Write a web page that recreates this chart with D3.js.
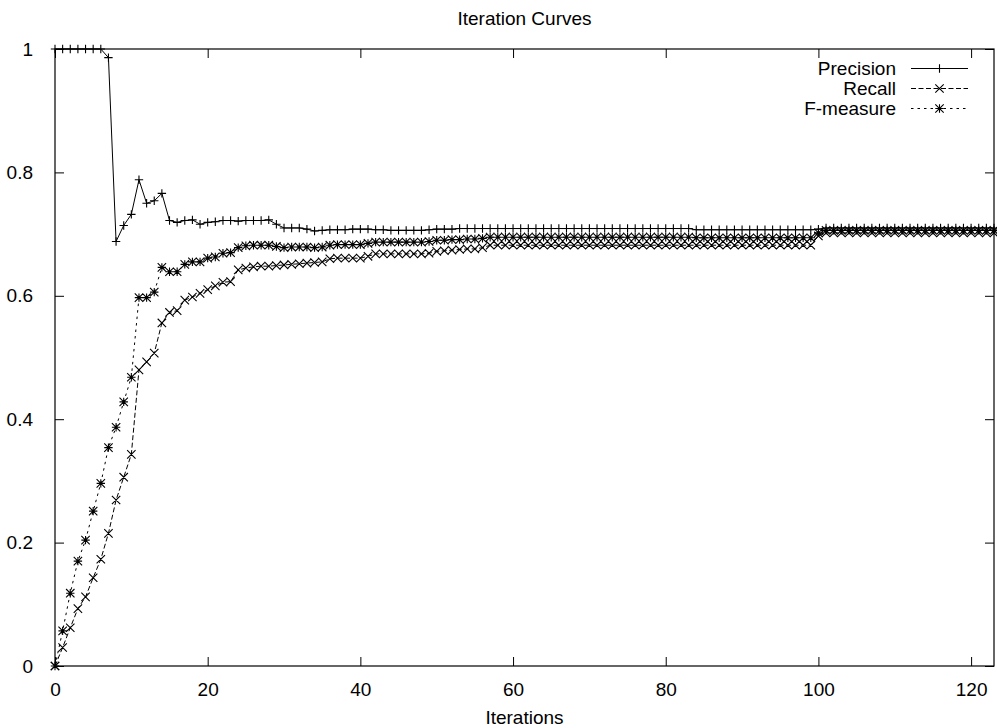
<!DOCTYPE html>
<html>
<head>
<meta charset="utf-8">
<script src="https://cdn.jsdelivr.net/npm/d3@7"></script>
<style>
    body { margin: 0; background: #fff; }
    text { font-family: "Liberation Sans", Arial, sans-serif; fill: #000; }
</style>
</head>
<body>
<svg id="chart"></svg>
<script>
// values per iteration (index = iteration number)
var precision = [
    1, 1, 1, 1, 1, 1, 1, 0.986, 0.688, 0.714,
    0.732, 0.788, 0.750, 0.754, 0.766, 0.722, 0.719, 0.722, 0.723, 0.716,
    0.719, 0.720, 0.722, 0.722, 0.721, 0.722, 0.722, 0.722, 0.723, 0.716,
    0.710, 0.710, 0.710, 0.708, 0.705, 0.706, 0.707, 0.707, 0.707, 0.708,
    0.708, 0.708, 0.707, 0.707, 0.706, 0.706, 0.706, 0.706, 0.706, 0.707,
    0.708, 0.708, 0.708, 0.709, 0.709, 0.709, 0.709, 0.709, 0.709, 0.709,
    0.709, 0.709, 0.709, 0.709, 0.709, 0.709, 0.709, 0.709, 0.709, 0.709,
    0.709, 0.709, 0.709, 0.709, 0.709, 0.709, 0.709, 0.709, 0.709, 0.709,
    0.709, 0.709, 0.709, 0.709, 0.707, 0.707, 0.707, 0.707, 0.707, 0.707,
    0.707, 0.707, 0.707, 0.707, 0.707, 0.707, 0.707, 0.707, 0.707, 0.707,
    0.708, 0.710, 0.710, 0.710, 0.710, 0.710, 0.710, 0.710, 0.710, 0.710,
    0.710, 0.710, 0.710, 0.710, 0.710, 0.710, 0.710, 0.710, 0.710, 0.710,
    0.710, 0.710, 0.710, 0.710
]

var recall = [
    0, 0.030, 0.062, 0.093, 0.112, 0.143, 0.173, 0.215, 0.269, 0.306,
    0.343, 0.480, 0.493, 0.507, 0.556, 0.573, 0.576, 0.593, 0.598, 0.604,
    0.610, 0.616, 0.622, 0.623, 0.642, 0.645, 0.647, 0.648, 0.648, 0.649,
    0.650, 0.651, 0.652, 0.653, 0.654, 0.655, 0.660, 0.661, 0.661, 0.661,
    0.661, 0.664, 0.668, 0.668, 0.668, 0.668, 0.668, 0.668, 0.668, 0.669,
    0.672, 0.673, 0.674, 0.675, 0.676, 0.676, 0.678, 0.682, 0.682, 0.682,
    0.682, 0.682, 0.682, 0.682, 0.682, 0.682, 0.682, 0.682, 0.682, 0.682,
    0.682, 0.682, 0.682, 0.682, 0.682, 0.682, 0.682, 0.682, 0.682, 0.682,
    0.682, 0.682, 0.682, 0.682, 0.682, 0.682, 0.682, 0.682, 0.682, 0.682,
    0.682, 0.682, 0.682, 0.682, 0.682, 0.682, 0.682, 0.682, 0.682, 0.682,
    0.697, 0.702, 0.702, 0.702, 0.702, 0.702, 0.702, 0.702, 0.702, 0.702,
    0.702, 0.702, 0.702, 0.702, 0.702, 0.702, 0.702, 0.702, 0.702, 0.702,
    0.702, 0.702, 0.702, 0.702
]

var fmeasure = [
    0, 0.057, 0.118, 0.170, 0.204, 0.251, 0.296, 0.354, 0.387, 0.428,
    0.468, 0.597, 0.597, 0.606, 0.646, 0.639, 0.639, 0.651, 0.655, 0.655,
    0.661, 0.663, 0.669, 0.670, 0.678, 0.681, 0.682, 0.682, 0.682, 0.680,
    0.678, 0.679, 0.679, 0.679, 0.678, 0.679, 0.682, 0.683, 0.683, 0.683,
    0.683, 0.685, 0.687, 0.687, 0.687, 0.687, 0.687, 0.687, 0.687, 0.688,
    0.690, 0.690, 0.691, 0.691, 0.692, 0.692, 0.693, 0.695, 0.695, 0.695,
    0.695, 0.695, 0.695, 0.695, 0.695, 0.695, 0.695, 0.695, 0.695, 0.695,
    0.695, 0.695, 0.695, 0.695, 0.695, 0.695, 0.695, 0.695, 0.695, 0.695,
    0.695, 0.695, 0.695, 0.695, 0.694, 0.694, 0.694, 0.694, 0.694, 0.694,
    0.694, 0.694, 0.694, 0.694, 0.694, 0.694, 0.694, 0.694, 0.694, 0.694,
    0.702, 0.706, 0.706, 0.706, 0.706, 0.706, 0.706, 0.706, 0.706, 0.706,
    0.706, 0.706, 0.706, 0.706, 0.706, 0.706, 0.706, 0.706, 0.706, 0.706,
    0.706, 0.706, 0.706, 0.706
]

var xTicks = [0, 20, 40, 60, 80, 100, 120]
var yTicks = [0, 0.2, 0.4, 0.6, 0.8, 1]
var seriesNames = ["Precision", "Recall", "F-measure"]

var dimensions = {
    width: 997,
    height: 728,
    margin: {
        top: 49,
        bottom: 62,
        right: 3,
        left: 55
    }
}

var fontSize = 19
var tickLen = 9

var svg = d3.select("#chart")
    .attr("width", dimensions.width)
    .attr("height", dimensions.height)

var xScale = d3.scaleLinear()
    .domain([0, 123])
    .range([dimensions.margin.left, dimensions.width - dimensions.margin.right])

var yScale = d3.scaleLinear()
    .domain([0, 1])
    .range([dimensions.height - dimensions.margin.bottom, dimensions.margin.top])

var x0 = xScale.range()[0], x1 = xScale.range()[1]
var y0 = yScale.range()[0], y1 = yScale.range()[1]

// axes: ticks go inwards, mirrored on the opposite side
var xAxisBottom = d3.axisBottom(xScale).tickValues(xTicks).tickSize(-tickLen).tickPadding(tickLen + 8).tickFormat(d3.format("d"))
var xAxisTop = d3.axisTop(xScale).tickValues(xTicks).tickSize(-tickLen).tickFormat("")
var yAxisLeft = d3.axisLeft(yScale).tickValues(yTicks).tickSize(-tickLen).tickPadding(tickLen + 13).tickFormat(d => d)
var yAxisRight = d3.axisRight(yScale).tickValues(yTicks).tickSize(-tickLen).tickFormat("")

function styleAxis(g) {
    g.select(".domain").remove()
    g.selectAll("line").attr("stroke", "#000").attr("stroke-width", 1)
    g.selectAll("text").style("font-size", fontSize + "px").attr("fill", "#000")
}

svg.append("g")
    .attr("class", "x-axis")
    .attr("transform", "translate(0," + y0 + ")")
    .call(xAxisBottom)
    .call(styleAxis)

svg.append("g")
    .attr("transform", "translate(0," + y1 + ")")
    .call(xAxisTop)
    .call(styleAxis)

svg.append("g")
    .attr("class", "y-axis")
    .attr("transform", "translate(" + x0 + ",0)")
    .call(yAxisLeft)
    .call(styleAxis)

svg.append("g")
    .attr("transform", "translate(" + x1 + ",0)")
    .call(yAxisRight)
    .call(styleAxis)

// border
svg.append("rect")
    .attr("x", x0)
    .attr("y", y1)
    .attr("width", x1 - x0)
    .attr("height", y0 - y1)
    .attr("fill", "none")
    .attr("stroke", "#000")
    .attr("stroke-width", 1.2)

// title and axis label
svg.append("text")
    .attr("x", (x0 + x1) / 2)
    .attr("y", 25)
    .attr("text-anchor", "middle")
    .style("font-size", fontSize + "px")
    .text("Iteration Curves")

svg.append("text")
    .attr("x", (x0 + x1) / 2)
    .attr("y", 724)
    .attr("text-anchor", "middle")
    .style("font-size", fontSize + "px")
    .text("Iterations")

// marker shapes
var m = 4.2
function plusPath(x, y) {
    return "M" + (x - m) + "," + y + "H" + (x + m) + "M" + x + "," + (y - m) + "V" + (y + m)
}
function crossPath(x, y) {
    return "M" + (x - m) + "," + (y - m) + "L" + (x + m) + "," + (y + m) +
        "M" + (x - m) + "," + (y + m) + "L" + (x + m) + "," + (y - m)
}
function starPath(x, y) {
    return plusPath(x, y) + crossPath(x, y)
}

var series = [
    { name: seriesNames[0], values: precision, dash: null, marker: plusPath },
    { name: seriesNames[1], values: recall, dash: "5,2.5", marker: crossPath },
    { name: seriesNames[2], values: fmeasure, dash: "2.5,4", marker: starPath }
]

var line = d3.line()
    .x((d, i) => xScale(i))
    .y(d => yScale(d))

var plot = svg.append("g")

series.forEach(function (s) {
    plot.append("path")
        .attr("d", line(s.values))
        .attr("fill", "none")
        .attr("stroke", "#000")
        .attr("stroke-width", 1)
        .attr("stroke-dasharray", s.dash)

    plot.append("path")
        .attr("d", s.values.map((d, i) => s.marker(xScale(i), yScale(d))).join(""))
        .attr("fill", "none")
        .attr("stroke", "#000")
        .attr("stroke-width", 1.1)
})

// legend
var legend = svg.append("g")
series.forEach(function (s, i) {
    var ly = 68.5 + i * 20
    legend.append("text")
        .attr("x", 896)
        .attr("y", ly)
        .attr("dy", "0.35em")
        .attr("text-anchor", "end")
        .style("font-size", fontSize + "px")
        .text(s.name)
    legend.append("line")
        .attr("x1", 911)
        .attr("x2", 968)
        .attr("y1", ly)
        .attr("y2", ly)
        .attr("stroke", "#000")
        .attr("stroke-width", 1)
        .attr("stroke-dasharray", s.dash)
    legend.append("path")
        .attr("d", s.marker(939.5, ly))
        .attr("fill", "none")
        .attr("stroke", "#000")
        .attr("stroke-width", 1.1)
})
</script>
</body>
</html>
